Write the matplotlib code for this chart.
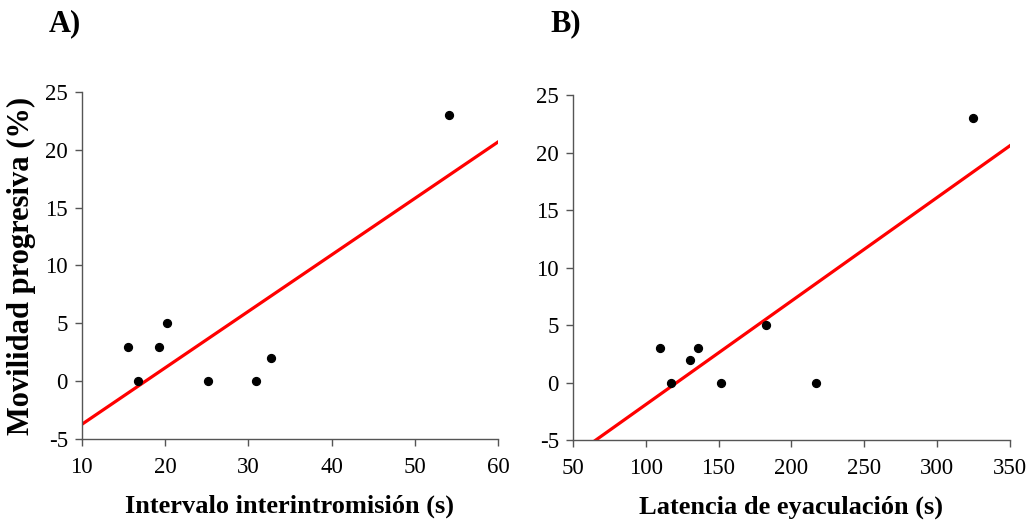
import numpy as np
import matplotlib
matplotlib.use('Agg')
import matplotlib.pyplot as plt

plt.rcParams['font.family'] = ['Liberation Serif', 'DejaVu Serif']
plt.rcParams['axes.unicode_minus'] = False

# Motilidad progresiva (%) por animal
movilidad = [3, 0, 3, 5, 0, 0, 2, 23]
# A) intervalo interintromisión (s)
intervalo = [15.6, 16.8, 19.3, 20.2, 25.2, 30.9, 32.7, 54.1]
# B) latencia de eyaculación (s), mismo orden de y
mov_b = [3, 0, 2, 3, 0, 5, 0, 23]
latencia = [109.9, 117.7, 130.7, 135.7, 151.7, 182.8, 216.7, 324.6]

y_ticks = [-5, 0, 5, 10, 15, 20, 25]
xa_ticks = [10, 20, 30, 40, 50, 60]
xb_ticks = [50, 100, 150, 200, 250, 300, 350]

fig = plt.figure(figsize=(10.31, 5.29), dpi=100)
ax_a = fig.add_axes([0.0792, 0.1696, 0.4041, 0.6571])
ax_b = fig.add_axes([0.5555, 0.1682, 0.4242, 0.6516])

panels = [
    (ax_a, intervalo, movilidad, xa_ticks, 'Intervalo interintromisión (s)', 'A)', -0.078, 1.195),
    (ax_b, latencia, mov_b, xb_ticks, 'Latencia de eyaculación (s)', 'B)', -0.05, 1.207),
]

for ax, x, y, xt, xlabel, tag, tx, ty in panels:
    # recta de regresión lineal
    m, b = np.polyfit(x, y, 1)
    xs = np.array([xt[0], xt[-1]])
    ax.plot(xs, m * xs + b, color='#ff0000', lw=2.3, zorder=2)
    ax.scatter(x, y, s=32, color='black', zorder=3)

    ax.set_xlim(xt[0], xt[-1])
    ax.set_ylim(-5, 25)
    ax.set_xticks(xt)
    ax.set_yticks(y_ticks)
    for side in ['top', 'right']:
        ax.spines[side].set_visible(False)
    for side in ['left', 'bottom']:
        ax.spines[side].set_color('#555555')
        ax.spines[side].set_linewidth(1.0)
    ax.tick_params(direction='out', length=5, width=1.0, color='#555555',
                   labelsize=16.5, pad=5)
    ax.tick_params(axis='x', pad=8)
    ax.set_xlabel(xlabel, fontsize=19, fontweight='bold', labelpad=12)
    ax.text(tx, ty, tag, transform=ax.transAxes, fontsize=22,
            fontweight='bold', va='center', ha='left')

ax_a.set_ylabel('Movilidad progresiva (%)', fontsize=22, fontweight='bold')
ax_a.yaxis.set_label_coords(-0.11, 0.5)

fig.savefig('out.png', dpi=100)
